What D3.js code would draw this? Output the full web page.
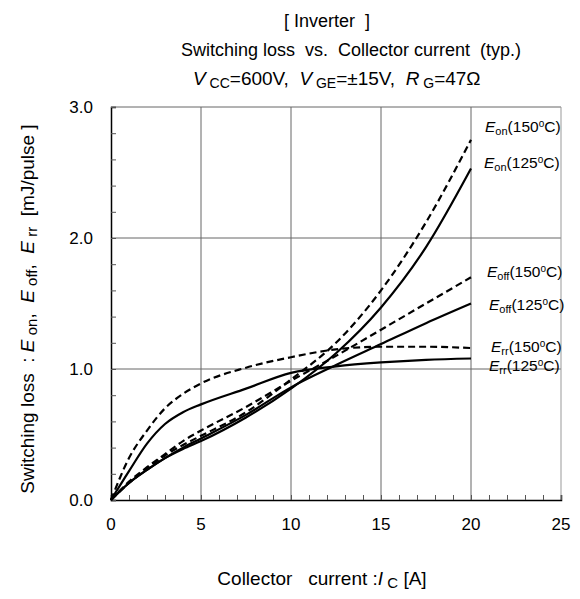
<!DOCTYPE html>
<html>
  <head>
    <meta charset="utf-8" />
    <script src="https://d3js.org/d3.v7.min.js"></script>
    <style>
      body { margin: 0; background: #fff; }
      text { font-family: "Liberation Sans", Arial, sans-serif; fill: #000; white-space: pre; }
    </style>
  </head>
  <body>
    <div id="chart"></div>
    <script>
      // collector current [A]
      var current = [0, 1, 2, 3, 4, 5, 7.5, 10, 12.5, 15, 17.5, 20];
      // switching loss [mJ/pulse]
      var eon150 = [0, 0.13, 0.24, 0.34, 0.42, 0.49, 0.67, 0.92, 1.2, 1.6, 2.12, 2.75];
      var eon125 = [0, 0.13, 0.23, 0.32, 0.39, 0.45, 0.63, 0.85, 1.12, 1.47, 1.93, 2.53];
      var eoff150 = [0, 0.14, 0.25, 0.35, 0.45, 0.53, 0.71, 0.91, 1.1, 1.3, 1.5, 1.7];
      var eoff125 = [0, 0.13, 0.23, 0.32, 0.4, 0.47, 0.65, 0.86, 1.03, 1.19, 1.35, 1.5];
      var err150 = [0, 0.32, 0.53, 0.7, 0.81, 0.89, 1.01, 1.09, 1.15, 1.17, 1.17, 1.16];
      var err125 = [0, 0.22, 0.43, 0.58, 0.67, 0.73, 0.85, 0.97, 1.02, 1.05, 1.07, 1.08];
      var xTicks = [0, 5, 10, 15, 20, 25];
      var yTicks = [0, 1, 2, 3];

      var W = 580, H = 599;
      var mLeft = 111, mRight = 561, mTop = 107, mBottom = 500;

      var svg = d3.select("#chart").append("svg")
        .attr("width", W).attr("height", H);

      var x = d3.scaleLinear().domain([0, 25]).range([mLeft, mRight]);
      var y = d3.scaleLinear().domain([0, 3]).range([mBottom, mTop]);

      // grid
      svg.append("g").selectAll("line").data([5, 10, 15, 20]).enter().append("line")
        .attr("x1", d => x(d)).attr("x2", d => x(d))
        .attr("y1", mTop).attr("y2", mBottom)
        .attr("stroke", "#666").attr("stroke-width", 1);
      svg.append("g").selectAll("line").data([1, 2, 3]).enter().append("line")
        .attr("x1", mLeft).attr("x2", mRight)
        .attr("y1", d => y(d)).attr("y2", d => y(d))
        .attr("stroke", "#666").attr("stroke-width", 1);
      svg.append("line").attr("x1", mRight).attr("x2", mRight)
        .attr("y1", mTop).attr("y2", mBottom).attr("stroke", "#999");

      // axes with inner ticks
      var xAxis = svg.append("g").attr("transform", "translate(0," + mBottom + ")")
        .call(d3.axisBottom(x).tickValues(d3.range(0, 26, 1)).tickSize(-5).tickFormat(""));
      var yAxis = svg.append("g").attr("transform", "translate(" + mLeft + ",0)")
        .call(d3.axisLeft(y).tickValues(d3.range(0, 3.01, 0.2)).tickSize(-5).tickFormat(""));
      [xAxis, yAxis].forEach(function (a) {
        a.select(".domain").attr("stroke", "#000").attr("stroke-width", 1.5);
        a.selectAll(".tick line").attr("stroke", "#555");
      });

      svg.append("g").selectAll("text").data(xTicks).enter().append("text")
        .attr("x", d => x(d)).attr("y", mBottom + 30)
        .attr("text-anchor", "middle").attr("font-size", 17)
        .text(d => d);
      svg.append("g").selectAll("text").data(yTicks).enter().append("text")
        .attr("x", 93).attr("y", d => y(d) + 6)
        .attr("text-anchor", "end").attr("font-size", 17)
        .text(d => d.toFixed(1));

      // curves
      var series = [
        { v: eon150, dash: true }, { v: eon125, dash: false },
        { v: eoff150, dash: true }, { v: eoff125, dash: false },
        { v: err150, dash: true }, { v: err125, dash: false }
      ];
      var line = d3.line().x((d, i) => x(current[i])).y(d => y(d)).curve(d3.curveMonotoneX);
      svg.append("g").selectAll("path").data(series).enter().append("path")
        .attr("d", d => line(d.v))
        .attr("fill", "none").attr("stroke", "#000").attr("stroke-width", 2.2)
        .attr("stroke-dasharray", d => d.dash ? "7,4" : null);

      // labels on the right
      var labels = [
        { sub: "on", t: "150", x: 485, y: 132 },
        { sub: "on", t: "125", x: 484, y: 168 },
        { sub: "off", t: "150", x: 487, y: 277 },
        { sub: "off", t: "125", x: 489, y: 310 },
        { sub: "rr", t: "150", x: 491, y: 352 },
        { sub: "rr", t: "125", x: 489, y: 371 }
      ];
      labels.forEach(function (l) {
        var t = svg.append("text").attr("x", l.x).attr("y", l.y).attr("font-size", 15.5);
        t.append("tspan").attr("font-style", "italic").text("E");
        t.append("tspan").attr("font-size", 11).attr("dy", 3).text(l.sub);
        t.append("tspan").attr("dy", -3).text("(" + l.t);
        t.append("tspan").attr("font-size", 10).attr("dy", -5).text("o");
        t.append("tspan").attr("dy", 5).text("C)");
      });

      // title
      svg.append("text").attr("x", 284).attr("y", 27).attr("font-size", 18).text("[ Inverter  ]");
      svg.append("text").attr("x", 181).attr("y", 56).attr("font-size", 18)
        .text("Switching loss  vs.  Collector current  (typ.)");
      var t3 = svg.append("text").attr("x", 193).attr("y", 85).attr("font-size", 19);
      t3.append("tspan").attr("font-style", "italic").text("V");
      t3.append("tspan").attr("font-size", 14).attr("dy", 3).text(" CC");
      t3.append("tspan").attr("dy", -3).text("=600V,  ");
      t3.append("tspan").attr("font-style", "italic").text("V");
      t3.append("tspan").attr("font-size", 14).attr("dy", 3).text(" GE");
      t3.append("tspan").attr("dy", -3).text("=±15V,  ");
      t3.append("tspan").attr("font-style", "italic").text("R");
      t3.append("tspan").attr("font-size", 14).attr("dy", 3).text(" G");
      t3.append("tspan").attr("dy", -3).text("=47Ω");

      // x label
      var xl = svg.append("text").attr("x", 322).attr("y", 585)
        .attr("text-anchor", "middle").attr("font-size", 19);
      xl.append("tspan").text("Collector   current :");
      xl.append("tspan").attr("font-style", "italic").text("I");
      xl.append("tspan").attr("font-size", 15).attr("dy", 3).text(" C");
      xl.append("tspan").attr("dy", -3).text(" [A]");

      // y label
      var yl = svg.append("text").attr("transform", "translate(34,309) rotate(-90)")
        .attr("text-anchor", "middle").attr("font-size", 19);
      yl.append("tspan").text("Switching loss  : ");
      yl.append("tspan").attr("font-style", "italic").text("E");
      yl.append("tspan").attr("font-size", 15).attr("dy", 3).text(" on");
      yl.append("tspan").attr("dy", -3).text(",  ");
      yl.append("tspan").attr("font-style", "italic").text("E");
      yl.append("tspan").attr("font-size", 15).attr("dy", 3).text(" off");
      yl.append("tspan").attr("dy", -3).text(",  ");
      yl.append("tspan").attr("font-style", "italic").text("E");
      yl.append("tspan").attr("font-size", 15).attr("dy", 3).text(" rr");
      yl.append("tspan").attr("dy", -3).text("  [mJ/pulse ]");
    </script>
  </body>
</html>
